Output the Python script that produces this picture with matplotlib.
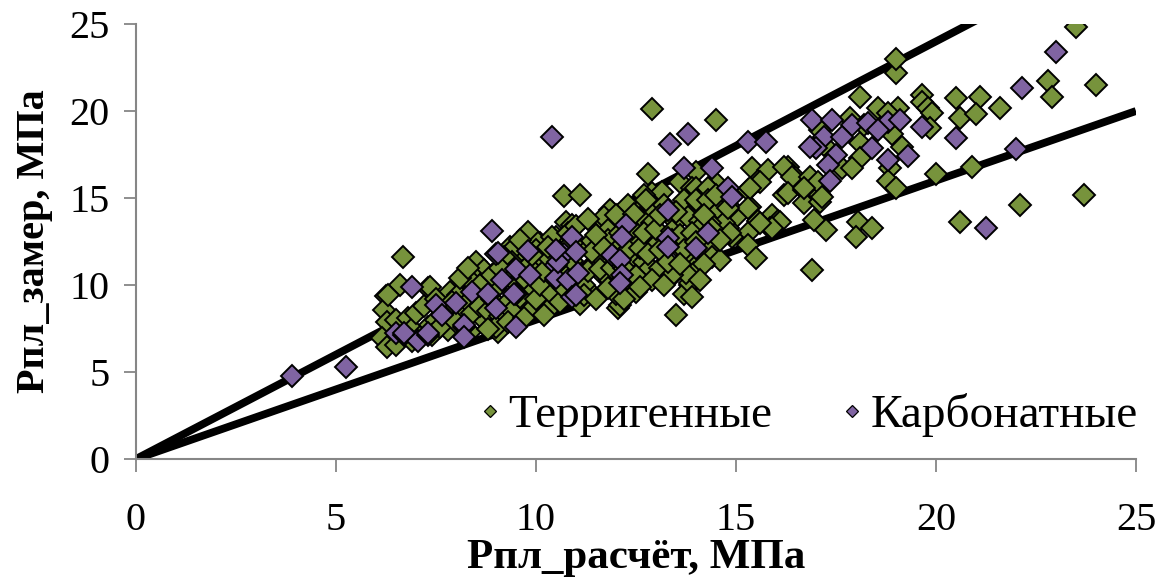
import matplotlib
matplotlib.use("Agg")
import matplotlib.pyplot as plt
import numpy as np

plt.rcParams['font.family'] = ['Liberation Serif', 'DejaVu Serif']

# Measured vs. calculated reservoir pressure, MPa: (calculated, measured)
terrigenous = [
    (6.68, 11.6), (6.6, 10.0), (7.3, 9.8), (6.25, 9.37), (6.2, 8.56), (6.27, 7.9), (6.5, 8.0), (6.8, 8.1),
    (6.15, 6.95), (6.27, 6.44), (6.5, 6.55), (6.3, 9.4),
    (10.7, 15.1), (11.1, 15.2), (9.8, 13.05), (10.75, 13.6), (10.9, 13.45), (11.9, 14.2), (11.7, 13.7),
    (10.5, 12.75), (10.1, 12.4), (11.35, 12.4), (9.35, 12.2), (9.6, 11.9), (8.55, 11.15), (9.1, 11.0),
    (10.1, 11.25), (11.4, 11.15), (11.7, 10.5), (7.35, 9.9), (7.85, 9.6), (8.05, 9.4), (8.8, 9.9), (9.9, 9.6),
    (11.3, 9.7), (10.35, 8.7), (12.05, 8.7), (8.2, 8.1), (8.7, 8.0), (7.3, 7.6), (7.8, 7.4), (8.35, 7.3), (9.05, 7.3),
    (12.8, 16.4), (14.0, 16.5), (15.4, 16.7), (15.8, 16.6), (16.3, 16.8), (16.4, 16.4), (15.55, 16.0),
    (13.6, 15.9), (13.9, 15.6), (14.5, 15.85), (14.35, 15.45), (14.2, 15.05), (12.9, 15.3), (13.15, 15.35),
    (12.7, 15.2), (15.3, 15.45), (15.35, 14.5), (16.2, 15.2), (13.7, 14.9), (14.05, 14.7), (14.55, 14.3),
    (12.3, 14.6), (12.6, 14.3), (12.9, 14.2), (11.85, 14.3), (11.7, 13.9), (12.6, 13.85), (12.9, 13.55),
    (13.5, 13.6), (13.8, 13.9), (14.1, 13.7), (14.8, 13.85), (15.0, 13.9), (15.9, 14.0), (16.05, 13.7),
    (15.55, 13.7), (15.85, 13.3), (15.3, 13.0), (15.3, 12.3), (14.8, 13.3), (14.55, 13.0), (14.9, 12.75),
    (11.8, 13.15), (11.8, 12.6), (12.1, 12.2), (12.4, 12.6), (12.85, 12.75), (13.0, 12.3), (13.5, 12.3),
    (13.8, 11.6), (14.4, 12.2), (14.4, 11.6), (11.6, 11.6), (12.4, 11.6), (12.7, 11.3), (12.85, 11.0),
    (13.1, 11.0), (13.95, 11.0), (13.4, 10.5), (15.5, 11.55), (11.85, 10.3), (12.4, 10.1), (12.5, 9.6),
    (13.85, 10.0), (13.7, 9.5), (12.1, 8.85), (13.5, 8.3), (12.9, 20.1),
    (19.0, 22.2), (19.0, 23.0), (18.1, 20.8), (18.55, 20.2), (19.05, 20.2), (19.65, 20.9), (19.65, 20.5),
    (19.8, 20.2), (19.9, 19.9), (20.5, 20.75), (21.1, 20.8), (20.6, 19.6), (21.0, 19.8), (17.85, 19.6),
    (18.8, 19.9), (19.85, 19.0), (18.9, 18.7), (17.1, 18.9), (17.2, 18.05), (18.1, 18.15), (18.1, 17.3),
    (19.15, 17.95), (18.85, 16.7), (17.65, 16.7), (17.9, 16.7), (16.2, 16.8), (16.4, 16.2), (16.85, 16.2),
    (16.3, 15.3), (16.7, 15.45), (17.1, 15.2), (16.7, 14.7), (17.1, 14.75), (18.8, 16.0), (19.0, 15.6),
    (20.0, 16.4), (20.9, 16.8), (20.6, 13.6), (16.1, 13.6), (16.95, 13.75), (17.25, 13.15), (18.05, 13.6),
    (18.4, 13.3), (18.0, 12.75), (16.9, 10.85),
    (23.5, 24.8), (22.8, 21.7), (22.9, 20.8), (24.0, 21.5), (21.6, 20.2), (23.7, 15.2), (22.1, 14.6),
    (14.5, 19.5), (18.2, 19.2), (15.6, 15.9), (15.35, 15.6), (17.05, 15.9), (17.15, 15.05), (16.7, 15.6),
    (15.9, 13.3), (15.6, 13.55),
    (14.6, 11.45), (13.95, 10.7), (13.85, 10.1), (13.9, 9.3), (14.0, 15.6), (14.3, 15.6), (14.0, 14.9),
    (14.3, 14.9), (14.6, 14.3), (14.85, 14.5), (15.3, 14.4), (14.7, 13.55), (14.85, 13.0), (14.35, 13.55),
    (14.05, 13.15), (13.75, 10.7), (13.4, 10.6),
    (8.5, 11.3), (8.7, 10.85), (8.35, 10.7), (9.4, 12.0), (10.05, 12.4), (10.4, 12.75),
    (6.9, 7.5), (7.1, 7.0), (7.0, 8.4), (7.2, 8.8), (7.5, 8.0), (7.4, 7.1), (6.9, 6.8), (7.6, 7.6), (7.7, 8.6), (7.5, 9.2),
    (7.9, 8.2), (8.1, 8.7), (8.0, 7.9), (8.3, 9.0), (8.4, 8.4), (8.2, 7.6), (8.5, 9.5), (8.6, 8.8), (8.4, 10.2),
    (8.6, 10.0), (7.9, 9.0), (8.1, 10.4), (8.3, 11.0),
    (8.8, 8.5), (8.9, 9.2), (9.0, 9.8), (9.1, 8.2), (9.2, 10.4), (9.3, 9.0), (9.4, 11.3), (9.2, 11.6), (8.9, 10.6),
    (9.0, 7.6), (9.4, 8.5), (9.5, 10.1), (9.3, 7.9), (8.8, 7.5), (9.1, 11.0),
    (9.6, 9.3), (9.7, 10.4), (9.8, 11.1), (9.9, 8.6), (10.0, 9.2), (10.1, 10.0), (10.2, 10.8), (10.3, 11.6),
    (10.4, 9.5), (10.0, 12.0), (9.7, 8.1), (10.2, 8.3), (10.5, 10.3), (9.6, 12.6), (10.3, 12.2), (9.9, 11.7),
    (10.6, 9.0), (10.7, 9.8), (10.8, 10.6), (10.9, 11.4), (11.0, 12.2), (11.1, 8.9), (11.2, 10.0), (11.3, 10.8),
    (11.4, 11.9), (11.5, 12.9), (10.6, 11.9), (10.8, 13.0), (11.0, 13.4), (11.2, 9.4), (11.5, 9.2), (11.3, 13.8),
    (10.9, 12.4),
    (11.6, 10.9), (11.7, 12.1), (11.9, 11.0), (12.0, 9.5), (12.1, 13.0), (12.2, 11.0), (12.3, 12.0), (12.4, 13.2),
    (12.5, 10.5), (11.8, 9.8), (12.2, 9.2), (12.0, 14.0), (12.45, 14.1), (11.95, 11.6),
    (12.6, 12.1), (12.7, 13.0), (12.8, 11.8), (12.9, 10.3), (13.0, 13.2), (13.1, 12.0), (13.2, 14.6), (13.3, 11.3),
    (13.4, 13.1), (12.6, 9.9), (13.1, 14.0), (13.5, 14.2), (13.2, 10.0), (13.4, 12.6), (12.75, 14.9),
    (13.6, 12.9), (13.7, 12.0), (13.9, 13.0), (14.0, 12.5), (14.2, 14.0), (14.4, 13.2), (14.6, 12.6), (14.8, 14.4),
    (14.2, 11.2), (14.5, 15.2), (13.6, 11.2), (14.1, 10.3),
]
carbonate = [
    (3.9, 4.75), (5.25, 5.3), (6.9, 9.9), (6.5, 7.24), (6.7, 7.1), (7.05, 6.8), (7.3, 7.1),
    (8.9, 13.1), (10.9, 12.75), (9.0, 11.8), (9.8, 11.95), (10.7, 11.8), (11.0, 11.9), (11.9, 11.7),
    (9.5, 10.9), (9.85, 10.6), (10.5, 11.15), (9.15, 10.3), (10.5, 10.4), (10.8, 10.3), (8.4, 9.6),
    (9.5, 9.5), (10.9, 9.3), (7.5, 8.85), (8.0, 8.95), (9.0, 8.7), (8.2, 7.7), (9.5, 7.6), (7.3, 7.24), (8.2, 7.0),
    (13.8, 18.7), (13.35, 18.1), (15.3, 18.2), (15.75, 18.2), (13.7, 16.7), (14.4, 16.7), (14.8, 15.6),
    (14.9, 15.05), (13.3, 14.3), (12.25, 13.45), (14.3, 13.0), (12.15, 12.75), (13.3, 12.7), (13.3, 12.2),
    (14.0, 12.1), (12.1, 11.45), (12.15, 10.6), (12.1, 10.1),
    (16.9, 19.5), (17.4, 19.5), (17.9, 19.2), (18.3, 19.3), (18.8, 19.35), (19.1, 19.5), (18.55, 18.9),
    (19.65, 19.1), (17.2, 18.5), (17.65, 18.5), (17.0, 17.9), (16.85, 17.95), (18.4, 17.9), (17.5, 17.5),
    (19.3, 17.4), (18.8, 17.2), (17.3, 16.9), (17.35, 16.0), (20.5, 18.45),
    (23.0, 23.4), (22.15, 21.3), (22.0, 17.8), (21.25, 13.3),
    (10.4, 18.5), (11.0, 9.4), (10.55, 11.3), (11.05, 10.7), (7.65, 8.3), (6.7, 7.25), (8.8, 9.5),
    (9.45, 9.5), (9.05, 11.85), (10.5, 12.0),
]
terr_calc = [p[0] for p in terrigenous]
terr_meas = [p[1] for p in terrigenous]
carb_calc = [p[0] for p in carbonate]
carb_meas = [p[1] for p in carbonate]

# bounding lines through the origin: measured = k * calculated
bound_slopes = [1.2, 0.8]
axis_max = 25
ticks = [0, 5, 10, 15, 20, 25]

fig = plt.figure(figsize=(11.70, 5.83), dpi=100)
ax = fig.add_axes([0.1162, 0.2127, 0.8547, 0.7461])

green = '#77933C'
purple = '#8064A2'
grey = '#868686'

line_x = np.array([0, axis_max])
for k in bound_slopes:
    ax.plot(line_x, k * line_x, color='black', lw=5.6, solid_capstyle='butt', zorder=2)

ax.plot(terr_calc, terr_meas, linestyle='none', marker='D', ms=10.8, mfc=green, mec='black',
        mew=1.4, zorder=3, label='Терригенные')
ax.plot(carb_calc, carb_meas, linestyle='none', marker='D', ms=10.8, mfc=purple, mec='black',
        mew=1.4, zorder=4, label='Карбонатные')

ax.set_xlim(0, axis_max)
ax.set_ylim(0, axis_max)
ax.set_xticks(ticks)
ax.set_yticks(ticks)
ax.tick_params(axis='both', direction='out', length=9, width=1.3, color=grey, labelsize=29)
ax.tick_params(axis='y', pad=10)
ax.tick_params(axis='x', pad=22)
for side in ('top', 'right'):
    ax.spines[side].set_visible(False)
for side in ('left', 'bottom'):
    ax.spines[side].set_color(grey)
    ax.spines[side].set_linewidth(1.5)

ax.set_xlabel('Рпл_расчёт, МПа', fontsize=31, fontweight='bold', labelpad=0)
ax.set_ylabel('Рпл_замер, МПа', fontsize=29, fontweight='bold', labelpad=12)

leg = fig.legend(loc='center left', bbox_to_anchor=(0.4108, 0.288), ncol=2, frameon=False,
                 fontsize=34, markerscale=0.6, handlelength=0.4, handletextpad=0.18,
                 columnspacing=1.5, borderpad=0, borderaxespad=0)
for h in leg.legend_handles:
    h.set_markeredgewidth(0.9)

fig.savefig('out.png', dpi=100)
